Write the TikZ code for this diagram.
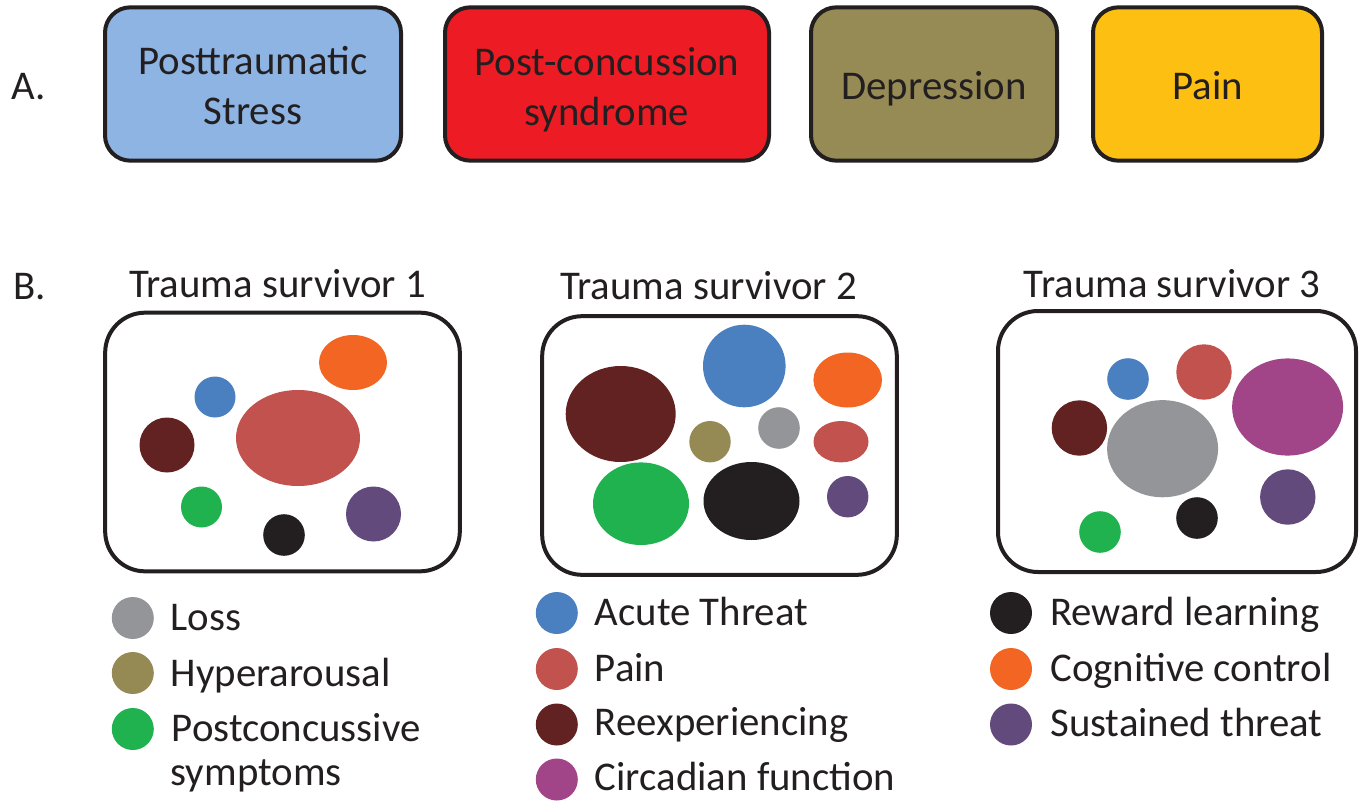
\documentclass[tikz,border=0pt]{standalone}
\usepackage{fontspec}
\setmainfont{Carlito}
\usetikzlibrary{positioning}
\definecolor{ink}{HTML}{231F20}
\definecolor{ptsdblue}{HTML}{8DB4E2}
\definecolor{pcsred}{HTML}{ED1C24}
\definecolor{deprolive}{HTML}{968B55}
\definecolor{painyellow}{HTML}{FDBF12}
\definecolor{threatblue}{HTML}{4A80C0}
\definecolor{painred}{HTML}{C1524E}
\definecolor{reexpmaroon}{HTML}{622222}
\definecolor{cogorange}{HTML}{F26522}
\definecolor{pcsgreen}{HTML}{1FB24E}
\definecolor{rewardblack}{HTML}{231F20}
\definecolor{susviolet}{HTML}{624A7D}
\definecolor{lossgray}{HTML}{939598}
\definecolor{hyperolive}{HTML}{968A54}
\definecolor{circmagenta}{HTML}{A24588}
\newcommand{\figfont}{\fontsize{30.6}{37.5}\selectfont}
\tikzset{disorder/.style = {draw=ink, line width=3pt, rounded corners=19pt, minimum height=115pt, inner sep=0}}
\tikzset{survivor/.style = {draw=ink, line width=3pt, rounded corners=30pt, minimum width=266pt, minimum height=194pt, inner sep=0}}
\tikzset{key/.style = {circle, inner sep=0, minimum size=31.5pt}}
\tikzset{keytext/.style = {anchor=base west, inner sep=0, align=left}}

\begin{document}
\begin{tikzpicture}[x=0.75pt, y=-0.75pt, font=\figfont, text=ink]
        \useasboundingbox (0,0) rectangle (1360,800);
        % A. disorders
        \node [anchor=base west, inner sep=0] (labA) at (11,99) {A.};
        \node [disorder, fill=ptsdblue, minimum width=222pt] (ptsd) at (253,84) {};
        \node [disorder, fill=pcsred, minimum width=243pt] (pcs) at (607,84) {};
        \node [disorder, fill=deprolive, minimum width=184.5pt] (depr) at (934,84) {};
        \node [disorder, fill=painyellow, minimum width=171.75pt] (pain) at (1207.5,84) {};
        \node [align=center, inner sep=0] (ptsdtext) at (253,86) {Posttraumatic\\Stress};
        \node [align=center, inner sep=0] (pcstext) at (607,90) {Post-concussion\\syndrome};
        \node [anchor=base, inner sep=0] (deprtext) at (934,99) {Depression};
        \node [anchor=base, inner sep=0] (paintext) at (1207.5,99) {Pain};
        % B. survivors
        \node [anchor=base west, inner sep=0] (labB) at (13,299) {B.};
        \node [anchor=base, inner sep=0] (titleone) at (277.5,297) {Trauma survivor 1};
        \node [anchor=base, inner sep=0] (titletwo) at (708.5,299) {Trauma survivor 2};
        \node [anchor=base, inner sep=0] (titlethree) at (1172,297) {Trauma survivor 3};
        \node [survivor] (one) at (282.5,442) {};
        \node [survivor] (two) at (719.5,445.5) {};
        \node [survivor, minimum width=268.5pt, minimum height=195.75pt] (three) at (1177,441.5) {};
        % survivor 1
        \fill [cogorange] (353,362.5) ellipse [x radius=34, y radius=27.5];
        \fill [threatblue] (215,397) circle [radius=20.5];
        \fill [painred] (298,438) ellipse [x radius=62, y radius=48];
        \fill [reexpmaroon] (167,445) circle [radius=27.5];
        \fill [pcsgreen] (201.5,507) circle [radius=20.5];
        \fill [rewardblack] (284,535) circle [radius=20.8];
        \fill [susviolet] (373.5,514) circle [radius=27.5];
        % survivor 2
        \fill [reexpmaroon] (620.7,414) ellipse [x radius=55, y radius=48];
        \fill [threatblue] (744.3,366) circle [radius=41.3];
        \fill [cogorange] (847.7,380) ellipse [x radius=34.3, y radius=27.5];
        \fill [hyperolive] (710,441.7) circle [radius=20.7];
        \fill [lossgray] (779,428) circle [radius=20.8];
        \fill [painred] (841,441.7) ellipse [x radius=27.5, y radius=20.7];
        \fill [pcsgreen] (641,503.7) ellipse [x radius=48, y radius=41.3];
        \fill [rewardblack] (751.5,501) ellipse [x radius=48, y radius=39];
        \fill [susviolet] (847.7,496.7) circle [radius=20.7];
        % survivor 3
        \fill [threatblue] (1128,379) circle [radius=20.8];
        \fill [painred] (1204,372) circle [radius=27.7];
        \fill [circmagenta] (1287.6,407) ellipse [x radius=55.5, y radius=48.6];
        \fill [reexpmaroon] (1079.4,428) circle [radius=27.7];
        \fill [lossgray] (1162.6,448.7) ellipse [x radius=55.5, y radius=48.6];
        \fill [susviolet] (1287.8,497) circle [radius=27.7];
        \fill [rewardblack] (1197,518) circle [radius=20.8];
        \fill [pcsgreen] (1100,532) circle [radius=20.8];
        % legend
        \node [key, fill=lossgray] (kloss) at (132.8,618) {};
        \node [key, fill=hyperolive] (khyper) at (132.8,673) {};
        \node [key, fill=pcsgreen] (kpcs) at (132.8,729) {};
        \node [keytext] (tloss) at (170.5,630) {Loss};
        \node [keytext] (thyper) at (170.5,686) {Hyperarousal};
        \node [keytext] (tpcs) at (171.5,741) {Postconcussive};
        \node [keytext] (tsymp) at (170.5,785) {symptoms};
        \node [key, fill=threatblue] (kthreat) at (556.8,613) {};
        \node [key, fill=painred] (kpain) at (556.8,669) {};
        \node [key, fill=reexpmaroon] (kreexp) at (556.8,724.5) {};
        \node [key, fill=circmagenta] (kcirc) at (556.8,779.5) {};
        \node [keytext] (tthreat) at (594.6,625.4) {Acute Threat};
        \node [keytext] (tpain) at (594.6,681) {Pain};
        \node [keytext] (treexp) at (594.6,735) {Reexperiencing};
        \node [keytext] (tcirc) at (594.6,790) {Circadian function};
        \node [key, fill=rewardblack] (kreward) at (1011,613) {};
        \node [key, fill=cogorange] (kcog) at (1011,669) {};
        \node [key, fill=susviolet] (ksus) at (1011,724.5) {};
        \node [keytext] (treward) at (1050,625.4) {Reward learning};
        \node [keytext] (tcog) at (1050,681) {Cognitive control};
        \node [keytext] (tsus) at (1050,736) {Sustained threat};
    \end{tikzpicture}
\end{document}
